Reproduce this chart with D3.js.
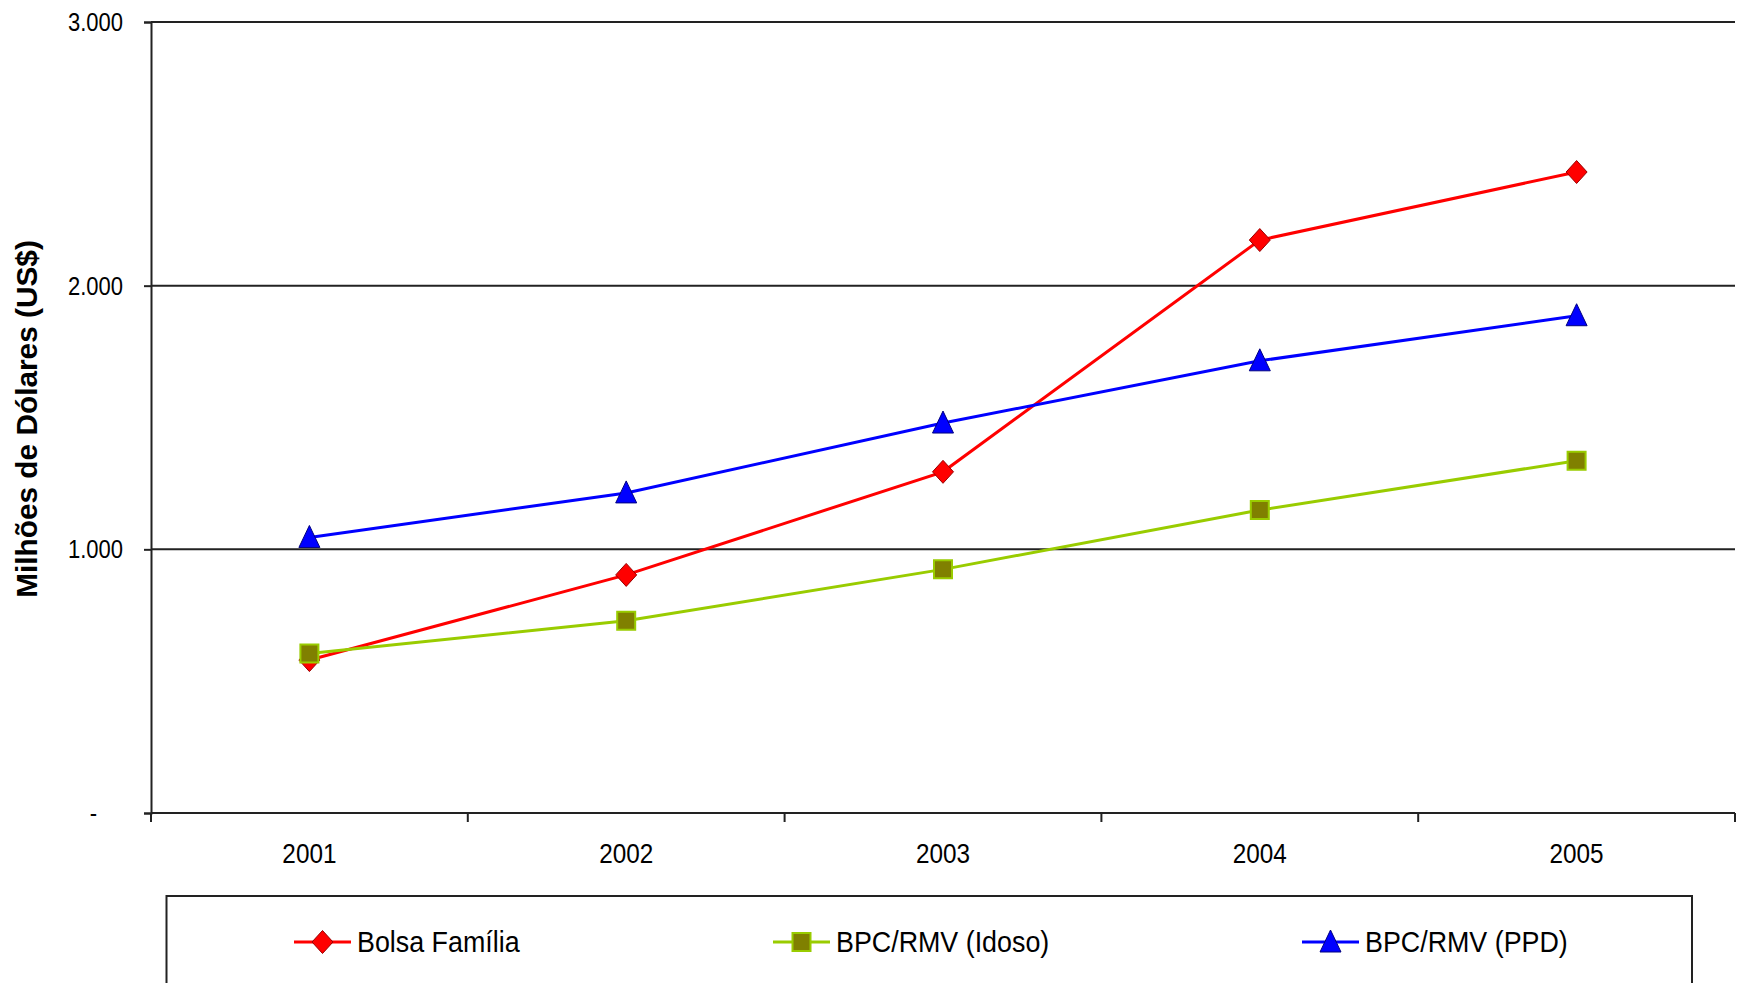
<!DOCTYPE html>
<html>
<head>
<meta charset="utf-8">
<script src="https://cdn.jsdelivr.net/npm/d3@7"></script>
<style>
  html, body { margin: 0; padding: 0; background: #fff; }
  svg { display: block; }
  text { font-family: "Liberation Sans", Arial, sans-serif; fill: #000; }
</style>
</head>
<body>
<svg id="chart" width="1741" height="983"></svg>
<script>
// ---- data ----
const years = ["2001", "2002", "2003", "2004", "2005"];
const bolsaFamilia = [580, 903, 1294, 2173, 2431];
const bpcIdoso = [605, 729, 924, 1149, 1336];
const bpcPPD = [1045, 1214, 1479, 1715, 1886];
const seriesNames = ["Bolsa Família", "BPC/RMV (Idoso)", "BPC/RMV (PPD)"];
const yTickValues = [0, 1000, 2000, 3000];
const yTickLabels = ["-", "1.000", "2.000", "3.000"];
const yTitle = "Milhões de Dólares (US$)";

// ---- layout ----
const W = 1741, H = 983;
const plot = { left: 151, right: 1735, top: 22, bottom: 813 };

const svg = d3.select("#chart");
svg.append("rect").attr("width", W).attr("height", H).attr("fill", "#fff");

const x = d3.scaleBand().domain(years).range([plot.left, plot.right]).padding(0);
const y = d3.scaleLinear().domain([0, 3000]).range([plot.bottom, plot.top]);
const xc = d => x(d) + x.bandwidth() / 2;

function squeeze(sel, k) {
  sel.each(function () {
    const len = this.getComputedTextLength();
    d3.select(this).attr("textLength", len * k).attr("lengthAdjust", "spacingAndGlyphs");
  });
}

// gridlines
svg.append("g").selectAll("line")
  .data(yTickValues.filter(v => v > 0))
  .join("line")
  .attr("x1", plot.left).attr("x2", plot.right)
  .attr("y1", d => y(d)).attr("y2", d => y(d))
  .attr("stroke", "#222").attr("stroke-width", 2);

// y axis
const yAxis = svg.append("g")
  .attr("transform", `translate(${plot.left},0)`)
  .call(d3.axisLeft(y).tickValues(yTickValues)
    .tickFormat((d, i) => yTickLabels[i]).tickSize(7).tickPadding(21));
yAxis.select(".domain").attr("stroke", "#222").attr("stroke-width", 2);
yAxis.selectAll(".tick line").attr("stroke", "#222").attr("stroke-width", 2);
yAxis.selectAll(".tick text")
  .attr("font-size", 25).attr("font-family", "Liberation Sans, Arial, sans-serif")
  .attr("fill", "#1a1a1a")
  .attr("dy", "0.34em")
  .call(squeeze, 0.88);
yAxis.selectAll(".tick text").filter(d => d === 0).attr("dx", -26);

// x axis line and boundary ticks
const xAxisG = svg.append("g");
xAxisG.append("line")
  .attr("x1", plot.left).attr("x2", plot.right)
  .attr("y1", y(0)).attr("y2", y(0))
  .attr("stroke", "#222").attr("stroke-width", 2);
const boundaries = years.map(d => x(d)).concat([x.range()[1]]);
xAxisG.selectAll("line.tk").data(boundaries).join("line").attr("class", "tk")
  .attr("x1", d => d).attr("x2", d => d)
  .attr("y1", y(0)).attr("y2", y(0) + 9)
  .attr("stroke", "#222").attr("stroke-width", 2);
const xLab = svg.append("g")
  .attr("transform", `translate(0,${plot.bottom})`)
  .call(d3.axisBottom(x).tickSize(0).tickPadding(0));
xLab.select(".domain").remove();
xLab.selectAll(".tick text")
  .attr("font-size", 27).attr("font-family", "Liberation Sans, Arial, sans-serif")
  .attr("fill", "#1a1a1a")
  .attr("y", 49.5).attr("dy", 0)
  .call(squeeze, 0.9);

// y title
svg.append("text")
  .attr("transform", `translate(37,419) rotate(-90)`)
  .attr("text-anchor", "middle")
  .attr("font-size", 29.8).attr("font-weight", "bold")
  .text(yTitle);

// marker shapes
const diamond = {
  draw(ctx, s) { ctx.moveTo(0, -11.5); ctx.lineTo(10.5, 0); ctx.lineTo(0, 11.5); ctx.lineTo(-10.5, 0); ctx.closePath(); }
};
const triangle = {
  draw(ctx, s) { ctx.moveTo(0, -12); ctx.lineTo(10.5, 10); ctx.lineTo(-10.5, 10); ctx.closePath(); }
};
const square = {
  draw(ctx, s) { ctx.rect(-9, -9, 18, 18); }
};

const series = [
  { name: seriesNames[0], values: bolsaFamilia, line: "#ff0000", fill: "#ff0000", stroke: "#990000", sw: 1, shape: diamond },
  { name: seriesNames[1], values: bpcIdoso, line: "#99cc00", fill: "#808000", stroke: "#99cc00", sw: 2, shape: square },
  { name: seriesNames[2], values: bpcPPD, line: "#0000ff", fill: "#0000ff", stroke: "#000080", sw: 1, shape: triangle }
];

const lineGen = d3.line().x((d, i) => xc(years[i])).y(d => y(d));

series.forEach(s => {
  const g = svg.append("g");
  g.append("path").attr("d", lineGen(s.values))
    .attr("fill", "none").attr("stroke", s.line).attr("stroke-width", 3);
  g.selectAll("path.m").data(s.values).join("path").attr("class", "m")
    .attr("transform", (d, i) => `translate(${xc(years[i])},${y(d)})`)
    .attr("d", d3.symbol(s.shape))
    .attr("fill", s.fill).attr("stroke", s.stroke).attr("stroke-width", s.sw);
});

// legend
svg.append("rect")
  .attr("x", 166.5).attr("y", 896).attr("width", 1525.5).attr("height", 120)
  .attr("fill", "#fff").attr("stroke", "#222").attr("stroke-width", 2);
const legendX = [294, 773, 1302];
const legendY = 942;
series.forEach((s, i) => {
  const g = svg.append("g").attr("transform", `translate(${legendX[i]},${legendY})`);
  g.append("line").attr("x1", 0).attr("x2", 57).attr("y1", 0).attr("y2", 0)
    .attr("stroke", s.line).attr("stroke-width", 3);
  g.append("path").attr("transform", "translate(28.5,0)")
    .attr("d", d3.symbol(s.shape))
    .attr("fill", s.fill).attr("stroke", s.stroke).attr("stroke-width", s.sw);
  g.append("text").attr("x", 63).attr("y", 10)
    .attr("font-size", 29.3).attr("fill", "#1a1a1a")
    .text(s.name)
    .call(squeeze, 0.916);
});
</script>
</body>
</html>
